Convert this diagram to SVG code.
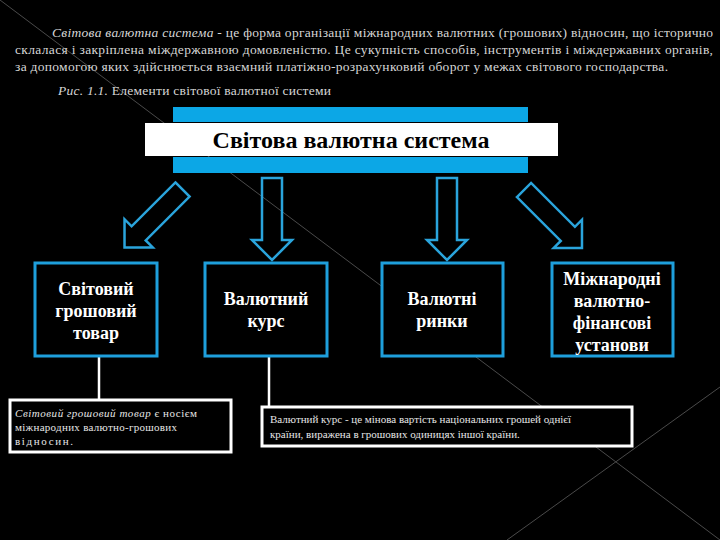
<svg xmlns="http://www.w3.org/2000/svg" xmlns:xlink="http://www.w3.org/1999/xlink" width="720" height="540" viewBox="0 0 720 540">
<style>
.para{font-family:"Liberation Serif","Times New Roman",serif;font-size:13.5px;fill:#d6d6d6}
.deco{stroke:#4a4a4a;stroke-width:1;fill:none}
.node rect{fill:#000;stroke:#1e9fdc;stroke-width:3}
.node text{font-family:"Liberation Serif","Times New Roman",serif;font-weight:bold;font-size:18px;fill:#fff;text-anchor:middle}
.arrow{fill:none;stroke:#2aa4dc;stroke-width:2.5}
.wire{stroke:#fff;stroke-width:2.5;fill:none}
.note rect{fill:#000;stroke:#fff;stroke-width:3}
.note text{font-family:"Liberation Serif","Times New Roman",serif;font-size:11px;fill:#e6e6e6}
</style>
<defs>
<path id="arr" d="M-10,0 H10 V62 H20 L0,82 L-20,62 H-10 Z"/>
</defs>
<rect x="0" y="0" width="720" height="540" fill="#000"/>
<g id="background">
<line class="deco" x1="0" y1="0" x2="720" y2="540"/>
<line class="deco" x1="507" y1="540" x2="720" y2="387"/>
</g>
<g id="intro">
<text class="para" x="52" y="37" textLength="661" lengthAdjust="spacing"><tspan font-style="italic">Світова валютна система</tspan> - це форма організації міжнародних валютних (грошових) відносин, що історично</text>
<text class="para" x="15" y="54" textLength="698" lengthAdjust="spacing">склалася і закріплена міждержавною домовленістю. Це сукупність способів, інструментів і міждержавних органів,</text>
<text class="para" x="15" y="71" textLength="653" lengthAdjust="spacing">за допомогою яких здійснюється взаємний платіжно-розрахунковий оборот у межах світового господарства.</text>
<text class="para" x="58" y="95" textLength="273" lengthAdjust="spacing"><tspan font-style="italic">Рис. 1.1.</tspan> Елементи світової валютної системи</text>
</g>
<g id="title">
<rect x="173" y="107" width="355" height="15" fill="#0ca7e6"/>
<rect x="173" y="157" width="355" height="16" fill="#0ca7e6"/>
<rect x="145" y="123" width="413" height="33" fill="#fff"/>
<text x="351" y="148" text-anchor="middle" font-family="Liberation Serif, Times New Roman, serif" font-weight="bold" font-size="24" fill="#000">Світова валютна система</text>
</g>
<g id="connectors">
<use class="arrow" xlink:href="#arr" transform="translate(182.5,189.5) rotate(45)"/>
<use class="arrow" xlink:href="#arr" transform="translate(272,178)"/>
<use class="arrow" xlink:href="#arr" transform="translate(447,178)"/>
<use class="arrow" xlink:href="#arr" transform="translate(524,190) rotate(-45)"/>
<line class="wire" x1="99" y1="357" x2="99" y2="399"/>
<line class="wire" x1="269" y1="357" x2="269" y2="407"/>
</g>
<g id="node-goods" class="node">
<rect x="35" y="263" width="122" height="93"/>
<text x="96" y="295">Світовий</text>
<text x="96" y="317">грошовий</text>
<text x="96" y="339">товар</text>
</g>
<g id="node-rate" class="node">
<rect x="205" y="263" width="122" height="93"/>
<text x="266" y="305">Валютний</text>
<text x="266" y="327">курс</text>
</g>
<g id="node-markets" class="node">
<rect x="382" y="263" width="121" height="93"/>
<text x="442" y="305">Валютні</text>
<text x="442" y="327">ринки</text>
</g>
<g id="node-institutions" class="node">
<rect x="552" y="263" width="121" height="93"/>
<text x="612" y="285">Міжнародні</text>
<text x="612" y="307">валютно-</text>
<text x="612" y="329">фінансові</text>
<text x="612" y="351">установи</text>
</g>
<g id="note-goods" class="note">
<rect x="10" y="400" width="221" height="52"/>
<text x="15" y="417" textLength="182" lengthAdjust="spacing"><tspan font-style="italic">Світовий грошовий товар</tspan> є носієм</text>
<text x="15" y="431" textLength="162" lengthAdjust="spacing">міжнародних валютно-грошових</text>
<text x="15" y="445" textLength="58" lengthAdjust="spacing">відносин.</text>
</g>
<g id="note-rate" class="note">
<rect x="262" y="407" width="370" height="39"/>
<text x="270" y="423">Валютний курс - це мінова вартість національних грошей однієї</text>
<text x="270" y="438">країни, виражена в грошових одиницях іншої країни.</text>
</g>
</svg>
